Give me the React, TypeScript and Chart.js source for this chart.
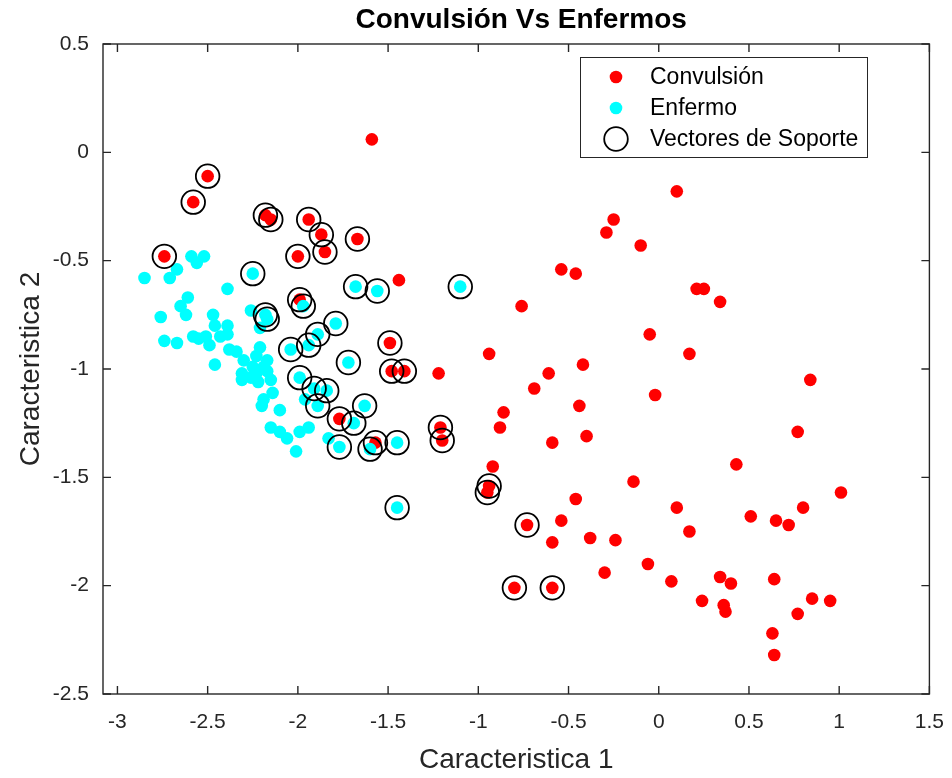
import React, { useEffect, useRef } from "react";
import { Chart, registerables } from "chart.js";

Chart.register(...registerables);

const FONT = '"Liberation Sans", Arial, Helvetica, sans-serif';
const AXIS_COLOR = "#262626";

const titleText = "Convulsión Vs Enfermos";
const xLabel = "Caracteristica 1";
const yLabel = "Caracteristica 2";
const legendLabels = ["Convulsión", "Enfermo", "Vectores de Soporte"];

const xTicks = [-3, -2.5, -2, -1.5, -1, -0.5, 0, 0.5, 1, 1.5];
const yTicks = [0.5, 0, -0.5, -1, -1.5, -2, -2.5];

// Convulsión samples that are not support vectors
const convulsion: [number, number][] = [
  [-1.59, 0.06], [-1.44, -0.59], [-1.22, -1.02], [-0.76, -0.71], [-0.94, -0.93],
  [-0.54, -0.54], [-0.46, -0.56], [-0.29, -0.37], [-0.25, -0.31], [-0.10, -0.43],
  [0.10, -0.18], [-0.05, -0.84], [-0.42, -0.98], [-0.61, -1.02], [-0.69, -1.09],
  [-0.02, -1.12], [-0.86, -1.20], [-0.88, -1.27], [-0.44, -1.17], [-0.40, -1.31],
  [-0.59, -1.34], [-0.92, -1.45], [-0.14, -1.52], [-0.46, -1.60], [0.10, -1.64],
  [-0.54, -1.70], [-0.59, -1.80], [-0.38, -1.78], [-0.24, -1.79], [-0.06, -1.90],
  [-0.30, -1.94], [0.07, -1.98], [0.21, -0.63], [0.25, -0.63], [0.34, -0.69],
  [0.17, -0.93], [0.84, -1.05], [0.77, -1.29], [0.43, -1.44], [1.01, -1.57],
  [0.80, -1.64], [0.17, -1.75], [0.51, -1.68], [0.65, -1.70], [0.72, -1.72],
  [0.34, -1.96], [0.40, -1.99], [0.64, -1.97], [0.24, -2.07], [0.36, -2.09],
  [0.37, -2.12], [0.85, -2.06], [0.95, -2.07], [0.77, -2.13], [0.63, -2.22],
  [0.64, -2.32],
];

// Convulsión samples chosen as support vectors
const convulsionSoporte: [number, number][] = [
  [-2.50, -0.11], [-2.58, -0.23], [-2.74, -0.48], [-2.18, -0.29], [-2.15, -0.31],
  [-1.94, -0.31], [-1.87, -0.38], [-1.85, -0.46], [-2.00, -0.48], [-1.67, -0.40],
  [-1.99, -0.68], [-1.49, -0.88], [-1.48, -1.01], [-1.41, -1.01], [-1.77, -1.23],
  [-1.57, -1.34], [-1.21, -1.27], [-1.20, -1.33], [-0.94, -1.54], [-0.95, -1.57],
  [-0.73, -1.72], [-0.80, -2.01], [-0.59, -2.01],
];

// Enfermo samples that are not support vectors
const enfermo: [number, number][] = [
  [-2.85, -0.58], [-2.67, -0.54], [-2.71, -0.58], [-2.59, -0.48], [-2.52, -0.48],
  [-2.56, -0.51], [-2.39, -0.63], [-2.61, -0.67], [-2.65, -0.71], [-2.62, -0.75],
  [-2.76, -0.76], [-2.47, -0.75], [-2.26, -0.73], [-2.46, -0.80], [-2.39, -0.80],
  [-2.39, -0.84], [-2.43, -0.85], [-2.21, -0.81], [-2.74, -0.87], [-2.67, -0.88],
  [-2.58, -0.85], [-2.55, -0.86], [-2.51, -0.85], [-2.49, -0.89], [-2.38, -0.91],
  [-2.34, -0.92], [-2.21, -0.90], [-2.23, -0.94], [-2.17, -0.96], [-2.30, -0.96],
  [-2.46, -0.98], [-2.25, -0.99], [-2.19, -0.99], [-2.23, -1.02], [-2.17, -1.01],
  [-2.31, -1.02], [-2.31, -1.05], [-2.26, -1.04], [-2.22, -1.06], [-2.15, -1.05],
  [-2.14, -1.11], [-2.19, -1.14], [-2.20, -1.17], [-2.10, -1.19], [-2.15, -1.27],
  [-2.10, -1.29], [-2.06, -1.32], [-1.99, -1.29], [-1.94, -1.27], [-2.01, -1.38],
  [-1.96, -1.14], [-1.83, -1.32],
];

// Enfermo samples chosen as support vectors
const enfermoSoporte: [number, number][] = [
  [-2.25, -0.56], [-2.18, -0.75], [-2.17, -0.77], [-2.04, -0.91], [-1.99, -1.04],
  [-1.97, -0.71], [-1.94, -0.89], [-1.89, -0.84], [-1.79, -0.79], [-1.68, -0.62],
  [-1.56, -0.64], [-1.10, -0.62], [-1.72, -0.97], [-1.91, -1.09], [-1.84, -1.10],
  [-1.89, -1.17], [-1.63, -1.17], [-1.69, -1.25], [-1.77, -1.36], [-1.60, -1.37],
  [-1.45, -1.34], [-1.45, -1.64],
];

const toPoints = (pts: [number, number][]) => pts.map(([x, y]) => ({ x, y }));

// Draws the boxed axes with inward ticks, the titles and the legend
const decorations = {
  id: "decorations",
  afterDraw(chart: any) {
    const { ctx, chartArea } = chart;
    const { left, right, top, bottom } = chartArea;
    const xs = chart.scales.x;
    const ys = chart.scales.y;
    ctx.save();

    ctx.strokeStyle = AXIS_COLOR;
    ctx.lineWidth = 1.4;
    ctx.strokeRect(left, top, right - left, bottom - top);
    const tl = 8;
    ctx.beginPath();
    xTicks.forEach((v) => {
      const px = xs.getPixelForValue(v);
      ctx.moveTo(px, bottom);
      ctx.lineTo(px, bottom - tl);
      ctx.moveTo(px, top);
      ctx.lineTo(px, top + tl);
    });
    yTicks.forEach((v) => {
      const py = ys.getPixelForValue(v);
      ctx.moveTo(left, py);
      ctx.lineTo(left + tl, py);
      ctx.moveTo(right, py);
      ctx.lineTo(right - tl, py);
    });
    ctx.stroke();

    const cx = (left + right) / 2;
    const cy = (top + bottom) / 2;

    ctx.fillStyle = "#000";
    ctx.textAlign = "center";
    ctx.textBaseline = "middle";
    ctx.font = `bold 28px ${FONT}`;
    ctx.fillText(titleText, cx + 5, 20);

    ctx.fillStyle = AXIS_COLOR;
    ctx.font = `28px ${FONT}`;
    ctx.fillText(xLabel, cx, 760);
    ctx.save();
    ctx.translate(31, cy);
    ctx.rotate(-Math.PI / 2);
    ctx.fillText(yLabel, 0, 0);
    ctx.restore();

    // legend
    const lx = 580, ly = 57, lw = 287, lh = 100;
    ctx.fillStyle = "#fff";
    ctx.fillRect(lx, ly, lw, lh);
    ctx.strokeStyle = AXIS_COLOR;
    ctx.lineWidth = 1;
    ctx.strokeRect(lx + 0.5, ly + 0.5, lw, lh);
    const rows = [77, 108, 139];
    const mx = 616;
    ctx.fillStyle = "#ff0000";
    ctx.beginPath();
    ctx.arc(mx, rows[0], 6.3, 0, Math.PI * 2);
    ctx.fill();
    ctx.fillStyle = "#00ffff";
    ctx.beginPath();
    ctx.arc(mx, rows[1], 6.3, 0, Math.PI * 2);
    ctx.fill();
    ctx.strokeStyle = "#000";
    ctx.lineWidth = 1.8;
    ctx.beginPath();
    ctx.arc(mx, rows[2], 11.8, 0, Math.PI * 2);
    ctx.stroke();
    ctx.fillStyle = "#000";
    ctx.textAlign = "left";
    ctx.font = `23px ${FONT}`;
    legendLabels.forEach((t, i) => ctx.fillText(t, 650, rows[i] + 1));

    ctx.restore();
  },
};

export default function App() {
  const ref = useRef<HTMLCanvasElement | null>(null);

  useEffect(() => {
    if (!ref.current) return;
    const tickFont = { family: FONT, size: 21 };
    const chart = new Chart(ref.current, {
      type: "scatter",
      data: {
        datasets: [
          {
            label: legendLabels[0],
            data: toPoints([...convulsion, ...convulsionSoporte]),
            pointRadius: 6.3,
            pointBackgroundColor: "#ff0000",
            pointBorderWidth: 0,
            order: 3,
          },
          {
            label: legendLabels[1],
            data: toPoints([...enfermo, ...enfermoSoporte]),
            pointRadius: 6.3,
            pointBackgroundColor: "#00ffff",
            pointBorderWidth: 0,
            order: 2,
          },
          {
            label: legendLabels[2],
            data: toPoints([...convulsionSoporte, ...enfermoSoporte]),
            pointRadius: 11.8,
            pointBackgroundColor: "rgba(0,0,0,0)",
            pointBorderColor: "#000",
            pointBorderWidth: 1.8,
            order: 1,
          },
        ],
      },
      options: {
        animation: false,
        responsive: false,
        devicePixelRatio: 1,
        layout: { padding: { top: 44, right: 22, left: 0, bottom: 0 } },
        plugins: {
          legend: { display: false },
          title: { display: false },
          tooltip: { enabled: false },
        },
        scales: {
          x: {
            type: "linear",
            min: -3.08,
            max: 1.5,
            afterBuildTicks: (s: any) => {
              s.ticks = xTicks.map((value) => ({ value }));
            },
            afterFit: (s: any) => {
              s.height = 84;
            },
            grid: { display: false },
            border: { display: false },
            ticks: {
              padding: 8,
              color: AXIS_COLOR,
              font: tickFont,
              maxRotation: 0,
              autoSkip: false,
              callback: (v: any) => String(v),
            },
          },
          y: {
            type: "linear",
            min: -2.5,
            max: 0.5,
            afterBuildTicks: (s: any) => {
              s.ticks = yTicks.map((value) => ({ value }));
            },
            afterFit: (s: any) => {
              s.width = 103;
            },
            grid: { display: false },
            border: { display: false },
            ticks: {
              padding: 6,
              color: AXIS_COLOR,
              font: tickFont,
              autoSkip: false,
              callback: (v: any) => String(v),
            },
          },
        },
      },
      plugins: [decorations],
    });
    return () => chart.destroy();
  }, []);

  return (
    <div style={{ position: "fixed", left: 0, top: 0, width: 952, height: 778, background: "#fff" }}>
      <canvas ref={ref} width={952} height={778} style={{ display: "block" }} />
    </div>
  );
}
